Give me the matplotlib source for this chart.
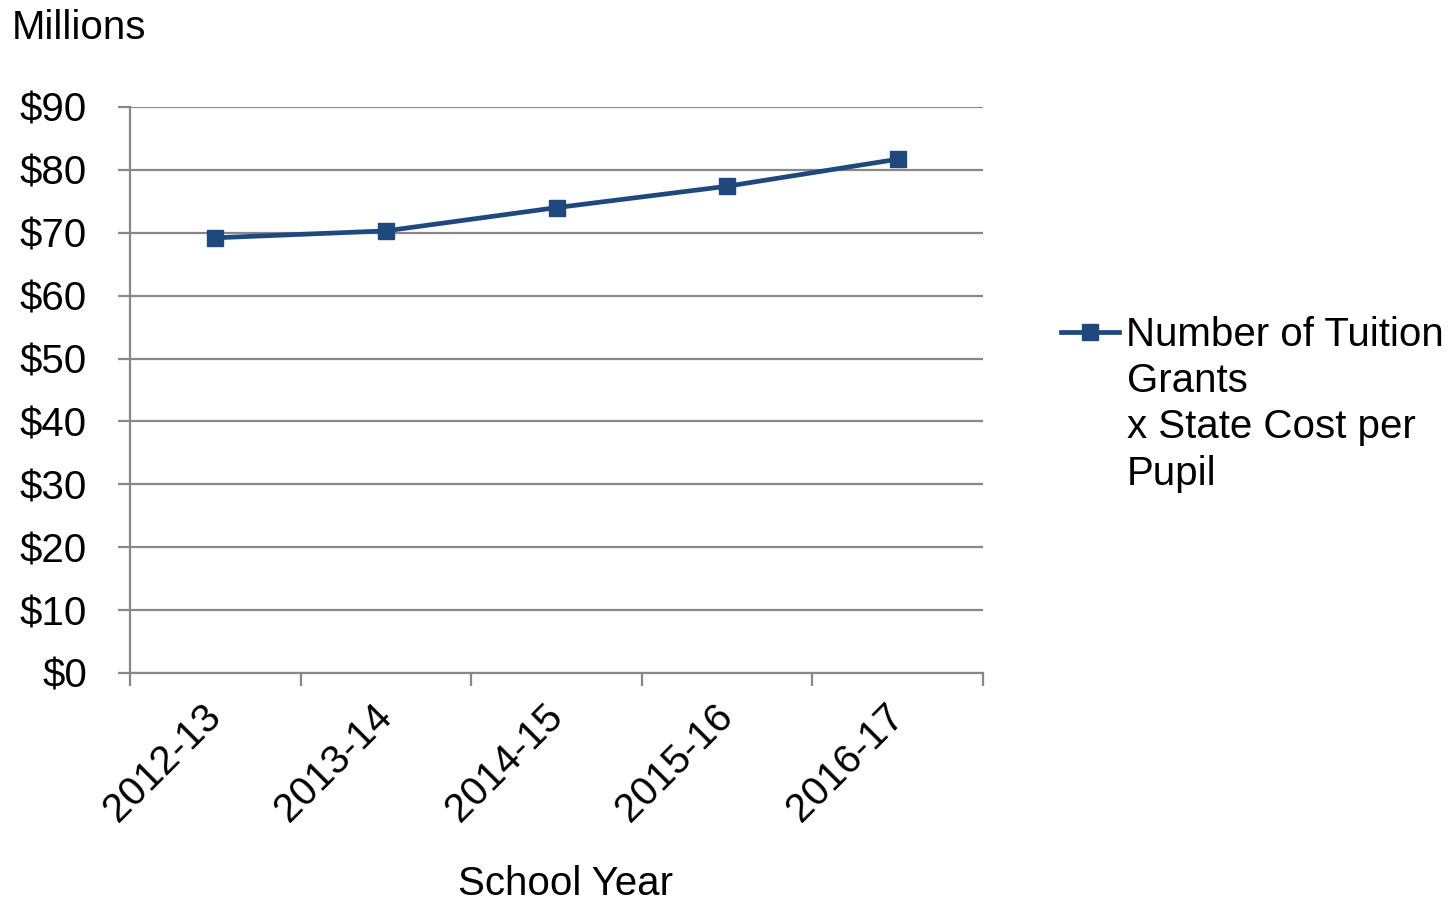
import matplotlib.pyplot as plt

# Data
years = ["2012-13", "2013-14", "2014-15", "2015-16", "2016-17"]
cost = [69.2, 70.3, 74.0, 77.4, 81.7]
series_lines = ["Number of Tuition", "Grants", "x State Cost per", "Pupil"]
yticks = [0, 10, 20, 30, 40, 50, 60, 70, 80, 90]

plt.rcParams['font.family'] = ['Liberation Sans', 'DejaVu Sans']
fs = 29

fig = plt.figure(figsize=(14.48, 9.01), dpi=100)
ax = fig.add_axes([130 / 1448, 1 - 673 / 901, 853 / 1448, 566 / 901])

grid_c = '#888888'
blue = '#1F497D'

x = range(len(years))
ln, = ax.plot(x, cost, color=blue, lw=3.4, marker='s', ms=12, zorder=3)

ax.set_xlim(-0.5, len(years) - 0.5)
ax.set_ylim(0, 90)
ax.set_yticks(yticks)
ax.set_yticklabels(["${}".format(v) for v in yticks], fontsize=fs)
ax.yaxis.grid(True, color=grid_c, lw=1.6)
ax.set_axisbelow(True)

# category axis: ticks between categories, labels at the centres
ax.set_xticks([i - 0.5 for i in range(len(years) + 1)])
ax.set_xticklabels([])
ax.set_xticks(list(x), minor=True)
ax.set_xticklabels(years, minor=True, rotation=45, ha='right', va='center',
                   rotation_mode='anchor', fontsize=fs)
ax.tick_params(axis='x', which='minor', length=0, pad=27)
ax.tick_params(axis='x', which='major', length=9, width=1.6, color=grid_c)
ax.tick_params(axis='y', length=9, width=1.6, color=grid_c, pad=22)

for s in ['top', 'right']:
    ax.spines[s].set_visible(False)
for s in ['left', 'bottom']:
    ax.spines[s].set_color(grid_c)
    ax.spines[s].set_linewidth(1.6)

fig.text(12 / 1448, 1 - 28 / 901, "Millions", fontsize=fs, va='center', ha='left')
fig.text(566 / 1448, 1 - 884 / 901, "School Year", fontsize=fs, va='center', ha='center')

# legend: handle beside the first line, the rest wrapped below
fig.legend(handles=[ln], labels=[series_lines[0]], loc='center left',
           bbox_to_anchor=(1061 / 1448, 1 - 335 / 901), frameon=False, fontsize=fs,
           handlelength=1.45, handletextpad=0.17, borderaxespad=0, borderpad=0)
for i, t in enumerate(series_lines[1:]):
    fig.text(1127 / 1448, 1 - (381 + 46.5 * i) / 901, t, fontsize=fs, va='center', ha='left')

fig.savefig("out.png", dpi=100)
